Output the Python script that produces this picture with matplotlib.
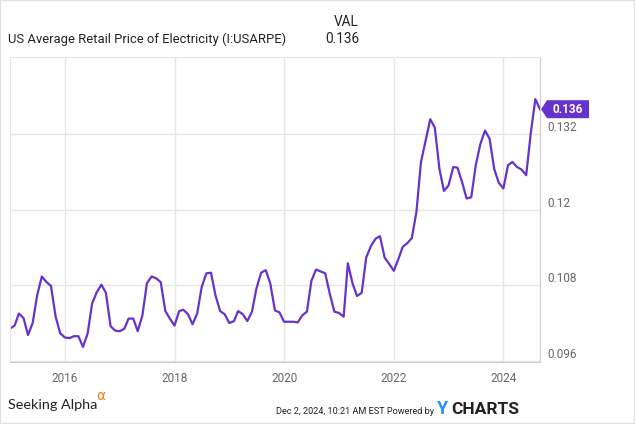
# US average retail price of electricity, monthly (YCharts style)

import pandas as pd
import matplotlib.pyplot as plt
import matplotlib.dates as mdates
from matplotlib.patches import Polygon, Rectangle
from matplotlib.transforms import IdentityTransform

# monthly values, Jan 2015 .. Sep 2024 ($/kWh)
months = pd.date_range("2015-01-01", "2024-09-01", freq="MS")
price = [
    0.1011, 0.1016, 0.1035, 0.1028, 0.1001, 0.1020, 0.1064, 0.1094, 0.1085, 0.1079, 0.1030, 0.1004,  # 2015
    0.0997, 0.0996, 0.0999, 0.0999, 0.0982, 0.1003, 0.1051, 0.1069, 0.1081, 0.1068, 0.1015, 0.1008,  # 2016
    0.1007, 0.1011, 0.1027, 0.1027, 0.1007, 0.1032, 0.1083, 0.1094, 0.1091, 0.1085, 0.1039, 0.1027,  # 2017
    0.1016, 0.1039, 0.1041, 0.1034, 0.1018, 0.1035, 0.1077, 0.1099, 0.1100, 0.1064, 0.1039, 0.1034,  # 2018
    0.1020, 0.1023, 0.1039, 0.1034, 0.1023, 0.1038, 0.1075, 0.1100, 0.1104, 0.1083, 0.1040, 0.1037,  # 2019
    0.1022, 0.1022, 0.1022, 0.1021, 0.1032, 0.1038, 0.1087, 0.1105, 0.1102, 0.1099, 0.1066, 0.1038,  # 2020
    0.1036, 0.1030, 0.1115, 0.1083, 0.1063, 0.1068, 0.1124, 0.1142, 0.1154, 0.1158, 0.1124, 0.1114,  # 2021
    0.1103, 0.1122, 0.1141, 0.1147, 0.1155, 0.1197, 0.1276, 0.1310, 0.1344, 0.1331, 0.1265, 0.1230,  # 2022
    0.1239, 0.1268, 0.1267, 0.1244, 0.1218, 0.1220, 0.1271, 0.1305, 0.1326, 0.1313, 0.1265, 0.1243,  # 2023
    0.1234, 0.1271, 0.1276, 0.1268, 0.1264, 0.1255, 0.1321, 0.1376, 0.1360,                          # 2024
]
year_ticks = [2016, 2018, 2020, 2022, 2024]
y_ticks = [0.096, 0.108, 0.12, 0.132]
y_tick_labels = ["0.096", "0.108", "0.12", "0.132"]

purple = "#6633cc"
grid_col = "#e6e6e6"
text_col = "#666666"

plt.rcParams["font.family"] = ["Roboto", "DejaVu Sans"]

W, H = 635, 424
fig = plt.figure(figsize=(W / 100, H / 100), dpi=100)
ax = fig.add_axes([10 / W, 1 - 362 / H, 530 / W, 305 / H])

ax.plot(months, price, color=purple, linewidth=1.6, solid_joinstyle="round")

ax.set_xlim(months[0], months[-1])
ax.set_ylim(0.0958, 0.1443)

# x axis: years
ax.set_xticks([pd.Timestamp(f"{y}-01-01") for y in year_ticks])
ax.set_xticklabels([str(y) for y in year_ticks], color=text_col, fontsize=8.5)
ax.tick_params(axis="x", length=0, pad=7)

# y axis on the right, labels sitting on top of grid lines
ax.yaxis.tick_right()
ax.set_yticks(y_ticks)
ax.set_yticklabels(y_tick_labels, color=text_col, fontsize=8.5)
ax.tick_params(axis="y", length=0, pad=5)
for lbl in ax.get_yticklabels():
    lbl.set_va("bottom")

ax.grid(True, color=grid_col, linewidth=1)
ax.set_axisbelow(True)
ax.spines["top"].set_color(grid_col)
ax.spines["left"].set_color(grid_col)
ax.spines["bottom"].set_color("#cccccc")
ax.spines["right"].set_color("#cccccc")

# last value flag
fig.canvas.draw()
px, py = ax.transData.transform((mdates.date2num(months[-1]), price[-1]))
flag = Polygon([(px + 1, py), (px + 7, py + 9), (px + 49, py + 9),
                (px + 49, py - 9), (px + 7, py - 9)],
               closed=True, facecolor=purple, edgecolor="none",
               transform=IdentityTransform())
fig.patches.append(flag)
fig.text((px + 28) / W, py / H, f"{price[-1]:.3f}", color="white",
         fontsize=8.5, fontweight="bold", ha="center", va="center")

# header
fig.text(8 / W, 1 - 39 / H, "US Average Retail Price of Electricity (I:USARPE)",
         fontsize=9.4, color="#222222", va="center")
fig.text(359 / W, 1 - 22 / H, "VAL", fontsize=9.8, color="#222222",
         ha="right", va="center")
fig.text(359 / W, 1 - 39 / H, f"{price[-1]:.3f}", fontsize=9.8,
         color="#222222", ha="right", va="center")

# footer
fig.text(8 / W, 1 - 405 / H, "Seeking Alpha", family=["Lato", "DejaVu Sans"],
         fontsize=10.4, color="#222222", va="center")
fig.text(96 / W, 1 - 396 / H, "\u03b1", family="DejaVu Sans", fontsize=10,
         color="#f07c1a", va="center")
fig.text(434 / W, 1 - 411 / H, "Dec 2, 2024, 10:21 AM EST Powered by",
         fontsize=6.6, color="#222222", ha="right", va="center")
fig.text(437 / W, 1 - 409 / H, "Y", fontsize=13, fontweight="bold",
         color="#1e90ff", va="center")
fig.text(451 / W, 1 - 409 / H, "CHARTS", fontsize=12.5, fontweight="bold",
         color="#222222", va="center")

# faint frame around the picture
fig.patches.append(Rectangle((0, 0), 1, 1, transform=fig.transFigure,
                             fill=False, edgecolor="#e0e0e0", linewidth=1.5))

fig.savefig("out.png", dpi=100)
